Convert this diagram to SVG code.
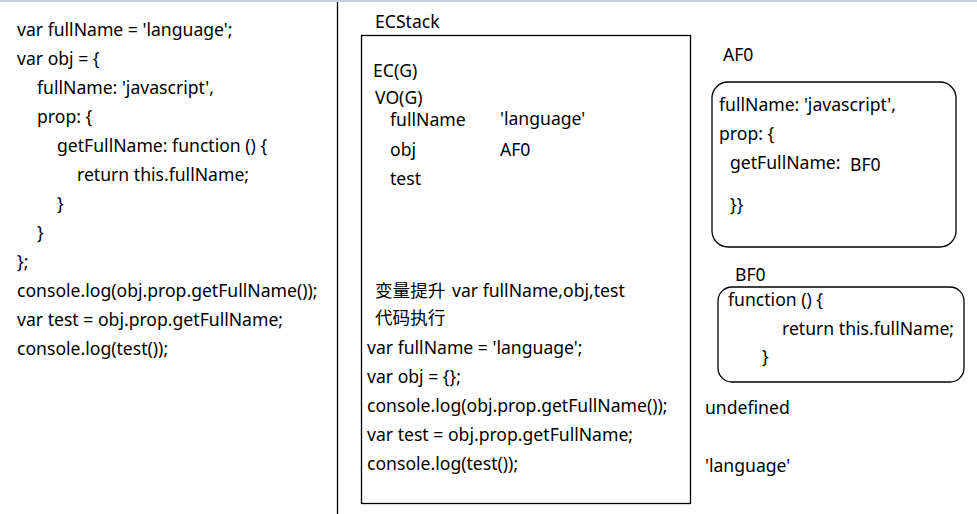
<svg xmlns="http://www.w3.org/2000/svg" width="977" height="514" viewBox="0 0 977 514">
<style>
text{font-family:"Noto Sans","Noto Sans CJK SC",sans-serif;font-size:17.6px;fill:#000}
.box{fill:none;stroke:#000;stroke-width:1.3}
</style>
<rect x="0" y="0" width="977" height="514" fill="#fff"/>
<rect x="0" y="0" width="977" height="2" fill="#c8d0dc"/>
<line x1="337.5" y1="2" x2="337.5" y2="514" stroke="#000" stroke-width="1.3"/>
<g id="source">
<text x="17" y="36">var fullName = 'language';</text>
<text x="17" y="65">var obj = {</text>
<text x="37" y="94">fullName: 'javascript',</text>
<text x="37" y="123">prop: {</text>
<text x="57" y="152">getFullName: function () {</text>
<text x="77" y="181">return this.fullName;</text>
<text x="57" y="210">}</text>
<text x="37" y="239">}</text>
<text x="17" y="268">};</text>
<text x="17" y="297">console.log(obj.prop.getFullName());</text>
<text x="17" y="326">var test = obj.prop.getFullName;</text>
<text x="17" y="355">console.log(test());</text>
</g>
<g id="ecstack">
<text x="375" y="28">ECStack</text>
<rect class="box" x="361.5" y="35.5" width="329" height="468"/>
<text x="373" y="77">EC(G)</text>
<text x="375" y="104">VO(G)</text>
<text x="390" y="126">fullName</text>
<text x="500" y="125">'language'</text>
<text x="390" y="156">obj</text>
<text x="500" y="156">AF0</text>
<text x="390" y="185">test</text>
<text x="375" y="297">变量提升<tspan x="452">var fullName,obj,test</tspan></text>
<text x="375" y="324">代码执行</text>
<text x="367" y="354">var fullName = 'language';</text>
<text x="367" y="383">var obj = {};</text>
<text x="367" y="412">console.log(obj.prop.getFullName());</text>
<text x="367" y="441">var test = obj.prop.getFullName;</text>
<text x="367" y="470">console.log(test());</text>
</g>
<g id="af0">
<text x="723" y="61">AF0</text>
<rect class="box" x="712" y="82" width="244" height="165" rx="16"/>
<text x="719" y="111">fullName: 'javascript',</text>
<text x="719" y="140">prop: {</text>
<text x="730" y="169">getFullName:</text>
<text x="850" y="171">BF0</text>
<text x="730" y="211">}}</text>
</g>
<g id="bf0">
<text x="735" y="281">BF0</text>
<rect class="box" x="718" y="287" width="246" height="95" rx="14"/>
<text x="728" y="306">function () {</text>
<text x="782" y="335">return this.fullName;</text>
<text x="762" y="363">}</text>
</g>
<g id="outputs">
<text x="705" y="414">undefined</text>
<text x="705" y="472">'language'</text>
</g>
<g id="connectors"></g>
</svg>
